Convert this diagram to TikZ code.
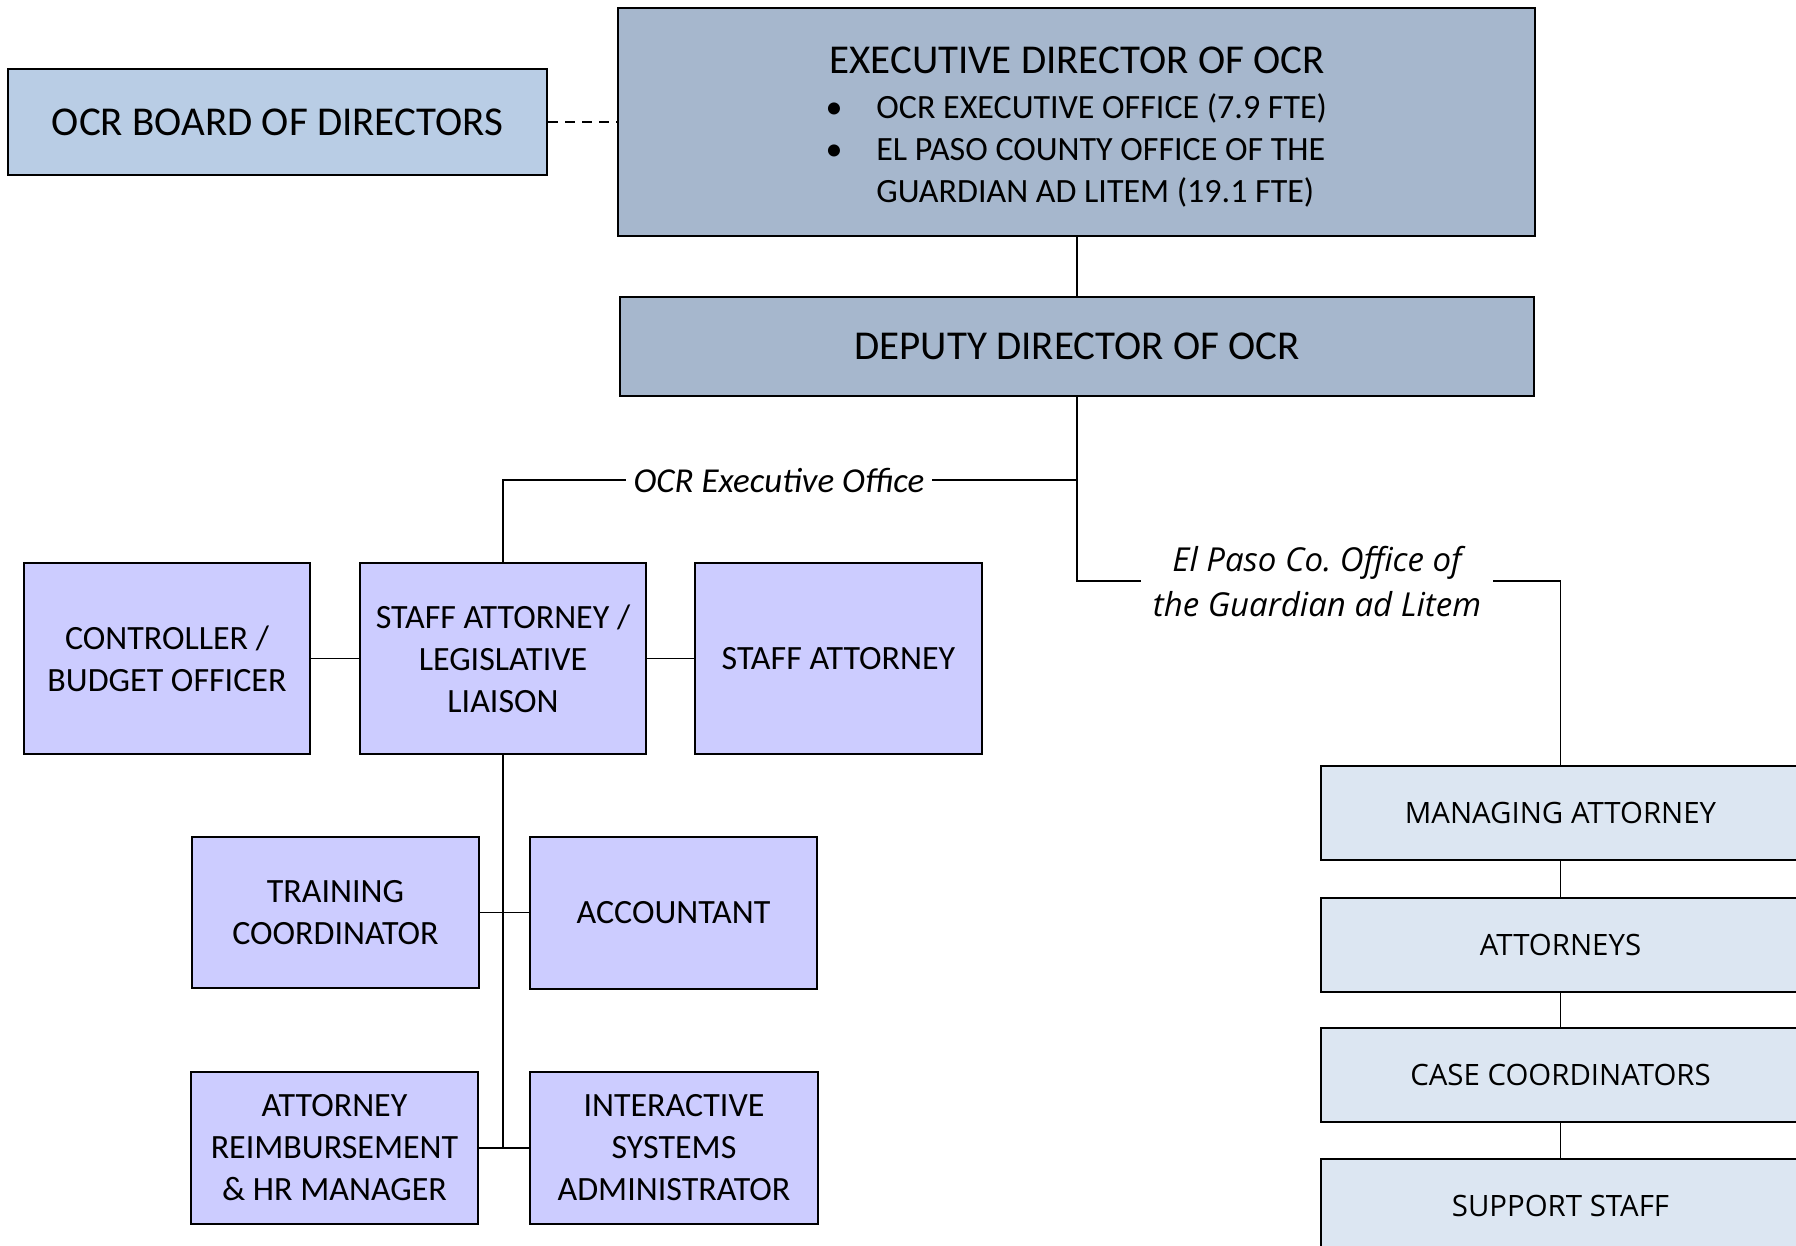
\documentclass[tikz,border=0pt]{standalone}
\usepackage{fontspec}
\setmainfont{Carlito}
\newfontfamily\osans{Open Sans}
\definecolor{boardfill}{HTML}{B9CDE5}
\definecolor{execfill}{HTML}{A6B7CD}
\definecolor{lavfill}{HTML}{CCCCFF}
\definecolor{galfill}{HTML}{DCE6F2}
\begin{document}
\begin{tikzpicture}[x=0.5pt,y=-0.5pt,
  box/.style={draw=black, line width=1.3pt, inner sep=0pt, align=center},
  dirbox/.style={box, fill=execfill},
  big/.style={font=\fontsize{20.5}{24}\selectfont},
  mid/.style={font=\fontsize{17}{21}\selectfont},
  lav/.style={box, fill=lavfill, minimum width=143pt, minimum height=95.5pt, mid},
  gal/.style={draw=black, line width=0.9pt, fill=galfill, inner sep=0pt, minimum width=239.5pt, minimum height=47pt, font=\osans\fontsize{14.7}{18}\selectfont},
  conn/.style={draw=black, line width=0.7pt},
  lbl/.style={fill=white, inner ysep=1pt, inner xsep=4pt, font=\itshape\fontsize{17.5}{21}\selectfont}]
\useasboundingbox (0,0) rectangle (1796,1246);
\clip (0,0) rectangle (1796,1246);

% top
\node[box, fill=boardfill, minimum width=269.5pt, minimum height=53pt, big] (board) at (277.5,122) {OCR BOARD OF DIRECTORS};
\node[dirbox, minimum width=458.5pt, minimum height=114pt] (exec) at (1076.5,122) {};
\node[big, anchor=base, inner sep=0pt] (exect) at (1077,74) {EXECUTIVE DIRECTOR OF OCR};
\node[mid, anchor=base, inner sep=0pt] (b1) at (834,119) {•};
\node[mid, anchor=base, inner sep=0pt] (b2) at (834,161) {•};
\node[mid, anchor=base west, inner sep=0pt] (l1) at (876,119) {OCR EXECUTIVE OFFICE (7.9 FTE)};
\node[mid, anchor=base west, inner sep=0pt] (l2) at (876,161) {EL PASO COUNTY OFFICE OF THE};
\node[mid, anchor=base west, inner sep=0pt] (l3) at (876,203) {GUARDIAN AD LITEM (19.1 FTE)};
\node[dirbox, minimum width=457pt, minimum height=49.5pt, big] (dep) at (1077,346.5) {DEPUTY DIRECTOR OF OCR};

% OCR executive office
\node[lav] (ctrl) at (167,658.5) {CONTROLLER /\\BUDGET OFFICER};
\node[lav] (sal) at (503,658.5) {STAFF ATTORNEY /\\LEGISLATIVE\\LIAISON};
\node[lav, minimum width=143.5pt] (sa) at (838.5,658.5) {STAFF ATTORNEY};
\node[lav, minimum width=143.5pt, minimum height=75.5pt] (train) at (335.5,912.5) {TRAINING\\COORDINATOR};
\node[lav, minimum width=143.5pt, minimum height=76pt] (acct) at (673.5,913) {ACCOUNTANT};
\node[lav, minimum width=143.5pt, minimum height=76pt] (arhr) at (334.5,1148) {ATTORNEY\\REIMBURSEMENT\\\& HR MANAGER};
\node[lav, minimum width=144pt, minimum height=76pt] (isa) at (674,1148) {INTERACTIVE\\SYSTEMS\\ADMINISTRATOR};

% GAL office
\node[gal] (mgr) at (1560.5,813) {MANAGING ATTORNEY};
\node[gal] (atty) at (1560.5,945) {ATTORNEYS};
\node[gal] (cc) at (1560.5,1075) {CASE COORDINATORS};
\node[gal] (ss) at (1560.5,1206) {SUPPORT STAFF};

% connectors
\coordinate (j1) at (1077,480);
\coordinate (j2) at (1077,581);
\coordinate (j3) at (503,1148);
\draw[conn, dash pattern=on 5pt off 3.5pt] (board.east) -- (exec.west);
\draw[conn] (exec.south -| dep.north) -- (dep.north);
\draw[conn] (dep.south) -- (j2) -| (mgr.north);
\draw[conn] (j1) -| (sal.north);
\draw[conn] (ctrl.east) -- (sal.west);
\draw[conn] (sal.east) -- (sa.west);
\draw[conn] (sal.south) -- (j3);
\draw[conn] (train.east) -- (train.east -| acct.west);
\draw[conn] (arhr.east) -- (isa.west);
\draw[conn] (mgr.south) -- (atty.north);
\draw[conn] (atty.south) -- (cc.north);
\draw[conn] (cc.south) -- (ss.north);

% labels
\node[lbl] (ocrlbl) at (779,480) {OCR Executive Office};
\node[lbl, font=\osans\itshape\fontsize{16.5}{22.5}\selectfont, align=center, inner xsep=6pt] (eplbl) at (1317,582) {El Paso Co.\ Office of\\the Guardian ad Litem};
\end{tikzpicture}
\end{document}
